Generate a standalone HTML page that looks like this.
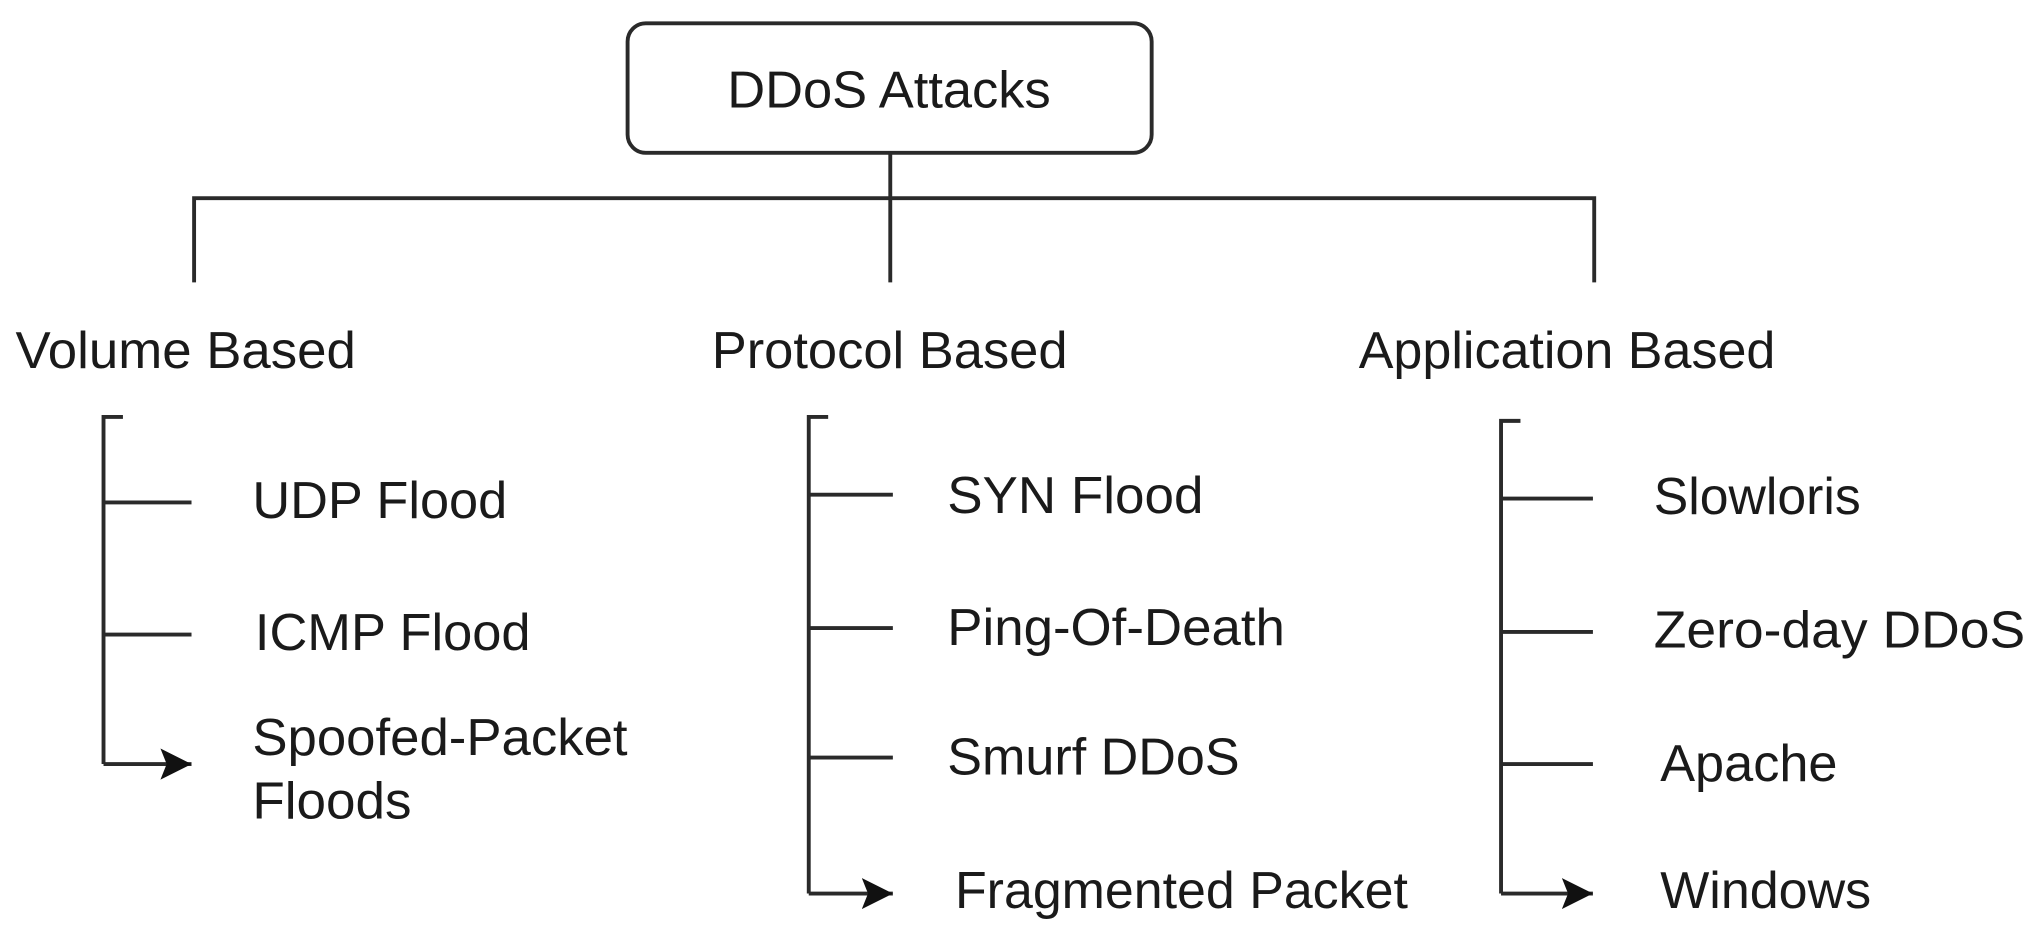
<!DOCTYPE html>
<html><head><meta charset="utf-8"><style>
html,body{margin:0;padding:0;background:#fff;}
svg{display:block;}
text{font-family:"Liberation Sans",Arial,sans-serif;fill:#1a1a1a;font-size:40px;}
</style></head><body>
<svg width="2029" height="935" viewBox="0 0 1568 722" preserveAspectRatio="none" xmlns="http://www.w3.org/2000/svg">
<defs><marker id="a" markerWidth="10" markerHeight="10" refX="9" refY="5" orient="auto" markerUnits="userSpaceOnUse" viewBox="0 0 10 10"><path d="M0,0 L10,5 L0,10 L2.5,5 z" fill="#111"/></marker>
<marker id="ah" viewBox="0 0 10 10" refX="10" refY="5" markerWidth="24" markerHeight="26" markerUnits="userSpaceOnUse" orient="auto"><path d="M0,0 L10,5 L0,10 L2,5 z" fill="#111"/></marker></defs>
<g stroke="#2a2a2a" stroke-width="3" fill="none">
<rect x="485" y="18" width="405" height="100" rx="14" ry="14"/>
<path d="M688 118 V218 M150 218 V153 H1232 V218"/>
<path d="M95 322 H80 V590 M640 322 H625 V690 M1175 325 H1160 V690"/>
<path d="M80 388 H148 M80 490 H148 M80 590 H148" marker-end="url(#ah)"/>
<path d="M625 382 H690 M625 485 H690 M625 585 H690 M625 690 H690" marker-end="url(#ah)"/>
<path d="M1160 385 H1231 M1160 488 H1231 M1160 590 H1231 M1160 690 H1231" marker-end="url(#ah)"/>
</g>
<text x="562" y="83" textLength="250" lengthAdjust="spacingAndGlyphs">DDoS Attacks</text>
<text x="12" y="284" textLength="263" lengthAdjust="spacingAndGlyphs">Volume Based</text>
<text x="550" y="284" textLength="275" lengthAdjust="spacingAndGlyphs">Protocol Based</text>
<text x="1050" y="284" textLength="322" lengthAdjust="spacingAndGlyphs">Application Based</text>
<text x="195" y="400" textLength="197" lengthAdjust="spacingAndGlyphs">UDP Flood</text>
<text x="197" y="502" textLength="213" lengthAdjust="spacingAndGlyphs">ICMP Flood</text>
<text x="195" y="583" textLength="290" lengthAdjust="spacingAndGlyphs">Spoofed-Packet</text>
<text x="195" y="632" textLength="123" lengthAdjust="spacingAndGlyphs">Floods</text>
<text x="732" y="396" textLength="198" lengthAdjust="spacingAndGlyphs">SYN Flood</text>
<text x="732" y="498" textLength="261" lengthAdjust="spacingAndGlyphs">Ping-Of-Death</text>
<text x="732" y="598" textLength="226" lengthAdjust="spacingAndGlyphs">Smurf DDoS</text>
<text x="738" y="701" textLength="350" lengthAdjust="spacingAndGlyphs">Fragmented Packet</text>
<text x="1278" y="397" textLength="160" lengthAdjust="spacingAndGlyphs">Slowloris</text>
<text x="1278" y="500" textLength="287" lengthAdjust="spacingAndGlyphs">Zero-day DDoS</text>
<text x="1283" y="603" textLength="137" lengthAdjust="spacingAndGlyphs">Apache</text>
<text x="1283" y="701" textLength="163" lengthAdjust="spacingAndGlyphs">Windows</text>
</svg>
</body></html>
